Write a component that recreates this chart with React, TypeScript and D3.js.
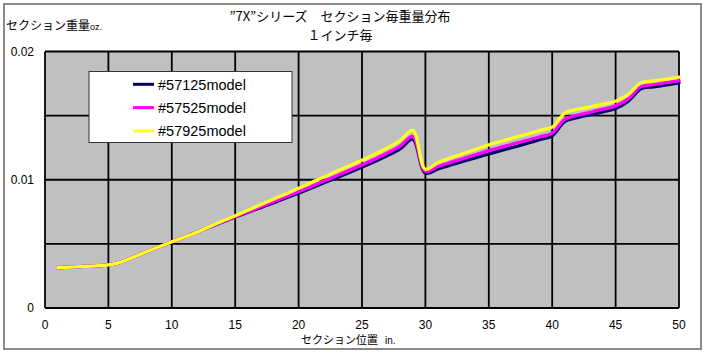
import React from "react";
import * as d3 from "d3";

const positions: number[] = Array.from({ length: 50 }, (_, i) => i + 1);

const series57125: number[] = [
  0.00314, 0.00319, 0.00324, 0.00329, 0.00336, 0.00358, 0.00398, 0.00438, 0.00477, 0.00516,
  0.00554, 0.00593, 0.00632, 0.00671, 0.00709, 0.00746, 0.00783, 0.0082, 0.00858, 0.00896,
  0.00936, 0.00976, 0.01016, 0.01057, 0.01099, 0.01142, 0.01188, 0.0124, 0.01316, 0.01052,
  0.01085, 0.01115, 0.01144, 0.01173, 0.01201, 0.01229, 0.01256, 0.01283, 0.01312, 0.01342,
  0.01455, 0.01485, 0.01507, 0.0153, 0.01555, 0.01612, 0.0171, 0.01724, 0.0174, 0.01756,
];

const series57525: number[] = [
  0.00314, 0.00319, 0.00324, 0.00329, 0.00336, 0.00358, 0.00398, 0.00438, 0.00477, 0.00516,
  0.00554, 0.00593, 0.00633, 0.00673, 0.00712, 0.0075, 0.00789, 0.00828, 0.00867, 0.00907,
  0.00948, 0.0099, 0.01031, 0.01073, 0.01116, 0.0116, 0.01208, 0.01262, 0.01338, 0.01065,
  0.01103, 0.01135, 0.01166, 0.01197, 0.01227, 0.01254, 0.01281, 0.01307, 0.01335, 0.01364,
  0.01472, 0.01503, 0.01526, 0.0155, 0.01576, 0.0163, 0.01726, 0.01741, 0.01757, 0.01773,
];

const series57925: number[] = [
  0.00314, 0.00319, 0.00324, 0.00329, 0.00336, 0.00358, 0.00398, 0.00438, 0.00477, 0.00516,
  0.00554, 0.00593, 0.00636, 0.00678, 0.00719, 0.00762, 0.00805, 0.00848, 0.0089, 0.00933,
  0.00978, 0.01022, 0.01066, 0.01109, 0.01152, 0.01198, 0.01248, 0.01305, 0.01385, 0.01082,
  0.01135, 0.01171, 0.01205, 0.01239, 0.01272, 0.013, 0.01328, 0.01355, 0.01383, 0.0141,
  0.0152, 0.01548, 0.01568, 0.0159, 0.01612, 0.01665, 0.01757, 0.0177, 0.01785, 0.018,
];

const seriesNames: string[] = ["#57125model", "#57525model", "#57925model"];
const seriesColors: string[] = ["#000066", "#ff00ff", "#ffff22"];
const xTicks: number[] = [0, 5, 10, 15, 20, 25, 30, 35, 40, 45, 50];
const yTicks: number[] = [0, 0.005, 0.01, 0.015, 0.02];
const yTickLabels: string[] = ["0", "", "0.01", "", "0.02"];

const W = 705;
const H = 356;
const plot = { left: 45, right: 679, top: 51.5, bottom: 308 };

export default function App() {
  const x = d3.scaleLinear().domain([0, 50]).range([plot.left, plot.right]);
  const y = d3.scaleLinear().domain([0, 0.02]).range([plot.bottom, plot.top]);
  const allSeries = [series57125, series57525, series57925];
  const line = d3
    .line<number>()
    .x((_, i) => x(positions[i]))
    .y((d) => y(d))
    .curve(d3.curveCatmullRom.alpha(0.5));

  const jp = "'Noto Sans CJK JP', 'Noto Sans', sans-serif";
  const latin = "'Liberation Sans', Arial, sans-serif";

  return (
    <svg
      width={W}
      height={H}
      style={{ position: "absolute", left: 0, top: 0, background: "#fff" }}
    >
      <rect x={4} y={4} width={697} height={345} fill="#fff" stroke="#8a8a8a" strokeWidth={2} />

      {/* Titles */}
      <text x={340} y={21} textAnchor="middle" fontFamily={jp} fontSize={13} fill="#000">
        ”7X”シリーズ　セクション毎重量分布
      </text>
      <text x={340} y={40} textAnchor="middle" fontFamily={jp} fontSize={13} fill="#000">
        １インチ毎
      </text>
      <text x={6} y={30} fontFamily={jp} fontSize={12} fill="#000">
        セクション重量<tspan fontFamily={latin} fontSize={9}>oz.</tspan>
      </text>

      {/* Plot area */}
      <rect
        x={plot.left}
        y={plot.top}
        width={plot.right - plot.left}
        height={plot.bottom - plot.top}
        fill="#c0c0c0"
      />
      {yTicks.map((t) => (
        <line
          key={"gy" + t}
          x1={plot.left}
          x2={plot.right}
          y1={y(t)}
          y2={y(t)}
          stroke="#000"
          strokeWidth={1.8}
        />
      ))}
      {xTicks.map((t) => (
        <line
          key={"gx" + t}
          x1={x(t)}
          x2={x(t)}
          y1={plot.top}
          y2={plot.bottom}
          stroke="#000"
          strokeWidth={1.8}
        />
      ))}

      {/* Series */}
      {allSeries.map((s, k) => (
        <path
          key={"s" + k}
          d={line(s) || ""}
          fill="none"
          stroke={seriesColors[k]}
          strokeWidth={3.3}
          strokeLinejoin="round"
          strokeLinecap="round"
        />
      ))}

      {/* Axis tick labels */}
      {yTicks.map((t, i) =>
        yTickLabels[i] ? (
          <text
            key={"yl" + t}
            x={34}
            y={y(t)}
            dy="0.35em"
            textAnchor="end"
            fontFamily={latin}
            fontSize={12}
            fill="#000"
          >
            {yTickLabels[i]}
          </text>
        ) : null
      )}
      {xTicks.map((t) => (
        <text
          key={"xl" + t}
          x={x(t)}
          y={329}
          textAnchor="middle"
          fontFamily={latin}
          fontSize={12}
          fill="#000"
        >
          {t}
        </text>
      ))}
      <text x={301} y={344} fontFamily={jp} fontSize={11} fill="#000">
        セクション位置
      </text>
      <text x={385} y={344} fontFamily={latin} fontSize={10} fill="#000">
        in.
      </text>

      {/* Legend */}
      <rect x={89} y={71.5} width={203} height={71} fill="#fff" stroke="#333" strokeWidth={1} />
      {seriesNames.map((n, k) => {
        const cy = 84.3 + k * 23.3;
        return (
          <g key={"lg" + k}>
            <line x1={133} x2={154} y1={cy} y2={cy} stroke={seriesColors[k]} strokeWidth={3} />
            <text x={158} y={cy} dy="0.36em" fontFamily={latin} fontSize={14.5} fill="#000">
              {n}
            </text>
          </g>
        );
      })}
    </svg>
  );
}
